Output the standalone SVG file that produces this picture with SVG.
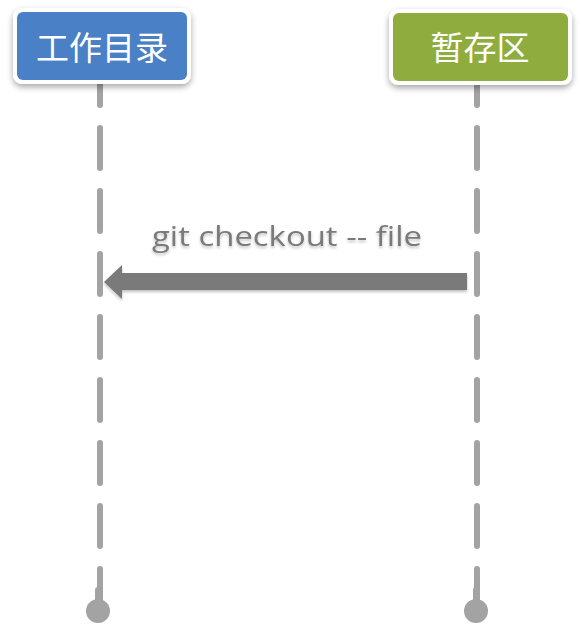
<svg xmlns="http://www.w3.org/2000/svg" width="584" height="642" viewBox="0 0 584 642">
<defs>
<filter id="sh" x="-20%" y="-30%" width="140%" height="170%">
<feGaussianBlur in="SourceAlpha" stdDeviation="3"/>
<feOffset dx="0" dy="3" result="b"/>
<feComponentTransfer><feFuncA type="linear" slope="0.35"/></feComponentTransfer>
<feMerge><feMergeNode/><feMergeNode in="SourceGraphic"/></feMerge>
</filter>
<filter id="tsh" x="-10%" y="-30%" width="120%" height="170%">
<feGaussianBlur in="SourceAlpha" stdDeviation="1.5"/>
<feOffset dx="0" dy="2"/>
<feComponentTransfer><feFuncA type="linear" slope="0.25"/></feComponentTransfer>
<feMerge><feMergeNode/><feMergeNode in="SourceGraphic"/></feMerge>
</filter>
</defs>
<style>
.life{stroke:#a3a3a3;stroke-width:6;stroke-dasharray:40 23;stroke-linecap:round;fill:none}
.stem{stroke:#a3a3a3;stroke-width:6;stroke-linecap:round}
.ball{fill:#a3a3a3}
.frame{fill:#ffffff;filter:url(#sh)}
.lbl{font-family:"Noto Sans CJK SC","Noto Sans",sans-serif;font-size:33px;fill:#ffffff;text-anchor:middle}
.msg{font-family:"Open Sans","Liberation Sans",sans-serif;font-size:28px;fill:#7a7a7a;text-anchor:middle}
</style>
<rect width="584" height="642" fill="#ffffff"/>
<g id="connectors">
<line class="life" x1="100" y1="65" x2="100" y2="609"/>
<line class="life" x1="477" y1="65" x2="477" y2="609"/>
<line class="stem" x1="98" y1="590" x2="98" y2="608"/>
<line class="stem" x1="476" y1="590" x2="476" y2="608"/>
<circle class="ball" cx="98" cy="611" r="12"/>
<circle class="ball" cx="476" cy="611" r="12"/>
<g filter="url(#tsh)">
<polygon points="467,273 122,273 122,265 104,282 122,299 122,290 467,290" fill="#7a7a7a"/>
<text class="msg" x="287" y="246" textLength="270" lengthAdjust="spacingAndGlyphs">git checkout -- file</text>
</g>
</g>
<g id="node-workdir">
<rect class="frame" x="13" y="8" width="178" height="76" rx="9"/>
<rect x="17" y="12" width="170" height="68" rx="6" fill="#4a80c6"/>
<text class="lbl" x="102" y="60">工作目录</text>
</g>
<g id="node-stage">
<rect class="frame" x="389" y="9" width="183" height="76" rx="9"/>
<rect x="393" y="13" width="175" height="68" rx="6" fill="#8fad3f"/>
<text class="lbl" x="480" y="60">暂存区</text>
</g>
</svg>
